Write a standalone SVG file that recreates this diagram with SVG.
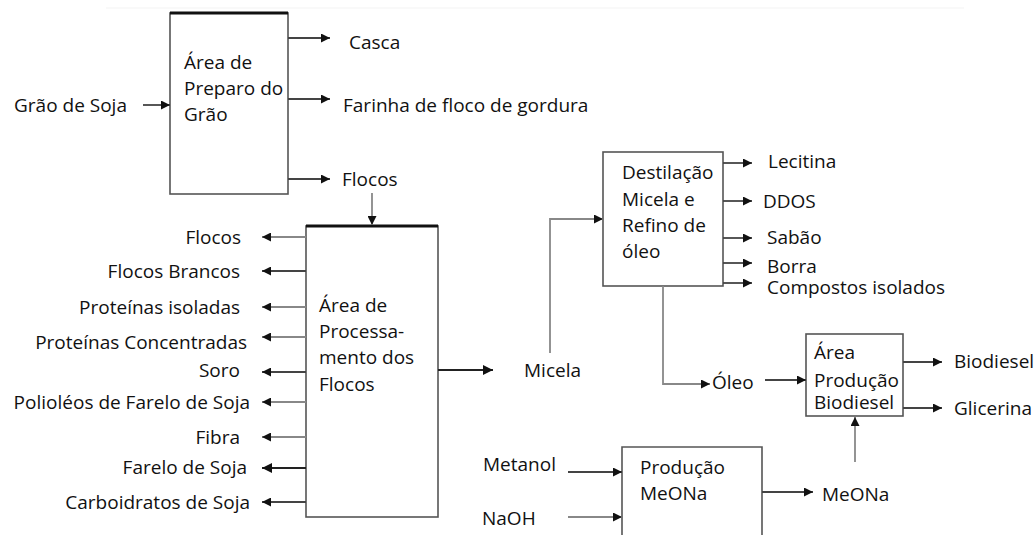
<svg xmlns="http://www.w3.org/2000/svg" width="1036" height="535" viewBox="0 0 1036 535">
<style>
text{font-family:"Open Sans","Noto Sans","DejaVu Sans",sans-serif;font-size:19px;fill:#111}
.box{fill:#fff;stroke:#555;stroke-width:1.6}
.topedge{stroke:#111;stroke-width:3}
.c{fill:none;stroke:#444;stroke-width:1.8}
.g{fill:none;stroke:#888;stroke-width:1.8}
.k{fill:none;stroke:#222;stroke-width:2}
.r{text-anchor:end}
</style>
<defs>
<marker id="ah" viewBox="0 0 10 10" refX="10" refY="5" markerWidth="5" markerHeight="5" markerUnits="strokeWidth" orient="auto">
<path d="M0,0 L10,5 L0,10 z" fill="#111"/>
</marker>
</defs>
<line x1="106" y1="8" x2="964" y2="8" stroke="#f3f3f3" stroke-width="1"/>
<g id="node-preparo">
<rect class="box" x="170" y="13" width="118" height="181"/>
<line class="topedge" x1="170" y1="13" x2="288" y2="13"/>
<text x="184" y="69">Área de</text>
<text x="184" y="95">Preparo do</text>
<text x="184" y="121">Grão</text>
</g>
<g id="node-processamento">
<rect class="box" x="306" y="226" width="132" height="291"/>
<line class="topedge" x1="306" y1="226" x2="438" y2="226"/>
<text x="319" y="312">Área de</text>
<text x="319" y="338">Processa-</text>
<text x="319" y="364">mento dos</text>
<text x="319" y="391">Flocos</text>
</g>
<g id="node-destilacao">
<rect class="box" x="603" y="152" width="120" height="134"/>
<text x="622" y="179">Destilação</text>
<text x="622" y="206">Micela e</text>
<text x="622" y="232">Refino de</text>
<text x="622" y="258">óleo</text>
</g>
<g id="node-biodiesel">
<rect class="box" x="806" y="334" width="97" height="82"/>
<text x="814" y="359">Área</text>
<text x="814" y="387">Produção</text>
<text x="814" y="409">Biodiesel</text>
</g>
<g id="node-meona">
<path class="box" d="M622,540 L622,447 L762,447 L762,540"/>
<text x="640" y="474">Produção</text>
<text x="640" y="500">MeONa</text>
</g>
<g id="labels">
<text x="14" y="112">Grão de Soja</text>
<text x="349" y="49">Casca</text>
<text x="343" y="112">Farinha de floco de gordura</text>
<text x="342" y="186">Flocos</text>
<text class="r" x="241" y="244">Flocos</text>
<text class="r" x="240" y="278">Flocos Brancos</text>
<text class="r" x="240" y="314">Proteínas isoladas</text>
<text class="r" x="247" y="349">Proteínas Concentradas</text>
<text class="r" x="240" y="377">Soro</text>
<text class="r" x="250" y="409">Polioléos de Farelo de Soja</text>
<text class="r" x="240" y="444">Fibra</text>
<text class="r" x="247" y="474">Farelo de Soja</text>
<text class="r" x="250" y="509">Carboidratos de Soja</text>
<text x="524" y="377">Micela</text>
<text x="768" y="168">Lecitina</text>
<text x="763" y="208">DDOS</text>
<text x="767" y="244">Sabão</text>
<text x="767" y="273">Borra</text>
<text x="767" y="294">Compostos isolados</text>
<text x="712" y="389">Óleo</text>
<text x="954" y="368">Biodiesel</text>
<text x="954" y="415">Glicerina</text>
<text x="483" y="471">Metanol</text>
<text x="482" y="525">NaOH</text>
<text x="822" y="501">MeONa</text>
</g>
<g id="connectors">
<line class="c" x1="143" y1="105" x2="170" y2="105" marker-end="url(#ah)"/>
<line class="c" x1="288" y1="38" x2="330" y2="38" marker-end="url(#ah)"/>
<line class="c" x1="288" y1="99" x2="330" y2="99" marker-end="url(#ah)"/>
<line class="c" x1="288" y1="179" x2="330" y2="179" marker-end="url(#ah)"/>
<line class="g" x1="372" y1="193" x2="372" y2="225" marker-end="url(#ah)"/>
<line class="g" x1="306" y1="237" x2="262" y2="237" marker-end="url(#ah)"/>
<line class="c" x1="306" y1="271" x2="262" y2="271" marker-end="url(#ah)"/>
<line class="g" x1="306" y1="307" x2="262" y2="307" marker-end="url(#ah)"/>
<line class="g" x1="306" y1="337" x2="262" y2="337" marker-end="url(#ah)"/>
<line class="c" x1="306" y1="372" x2="262" y2="372" marker-end="url(#ah)"/>
<line class="g" x1="306" y1="402" x2="262" y2="402" marker-end="url(#ah)"/>
<line class="g" x1="306" y1="437" x2="262" y2="437" marker-end="url(#ah)"/>
<line class="k" x1="306" y1="468" x2="262" y2="468" marker-end="url(#ah)"/>
<line class="c" x1="306" y1="502" x2="262" y2="502" marker-end="url(#ah)"/>
<line class="k" x1="438" y1="370" x2="493" y2="370" marker-end="url(#ah)"/>
<polyline class="g" points="550,353 550,219 603,219" marker-end="url(#ah)"/>
<line class="c" x1="723" y1="163" x2="752" y2="163" marker-end="url(#ah)"/>
<line class="c" x1="723" y1="201" x2="752" y2="201" marker-end="url(#ah)"/>
<line class="c" x1="723" y1="238" x2="752" y2="238" marker-end="url(#ah)"/>
<line class="c" x1="723" y1="263" x2="752" y2="263" marker-end="url(#ah)"/>
<line class="c" x1="723" y1="283" x2="752" y2="283" marker-end="url(#ah)"/>
<polyline class="g" points="663,286 663,384 710,384" marker-end="url(#ah)"/>
<line class="c" x1="765" y1="380" x2="806" y2="380" marker-end="url(#ah)"/>
<line class="c" x1="903" y1="362" x2="942" y2="362" marker-end="url(#ah)"/>
<line class="c" x1="903" y1="408" x2="942" y2="408" marker-end="url(#ah)"/>
<line class="c" x1="568" y1="472" x2="622" y2="472" marker-end="url(#ah)"/>
<line class="g" x1="568" y1="517" x2="622" y2="517" marker-end="url(#ah)"/>
<line class="c" x1="762" y1="492" x2="813" y2="492" marker-end="url(#ah)"/>
<line class="g" x1="855" y1="462" x2="855" y2="417" marker-end="url(#ah)"/>
</g>
</svg>
